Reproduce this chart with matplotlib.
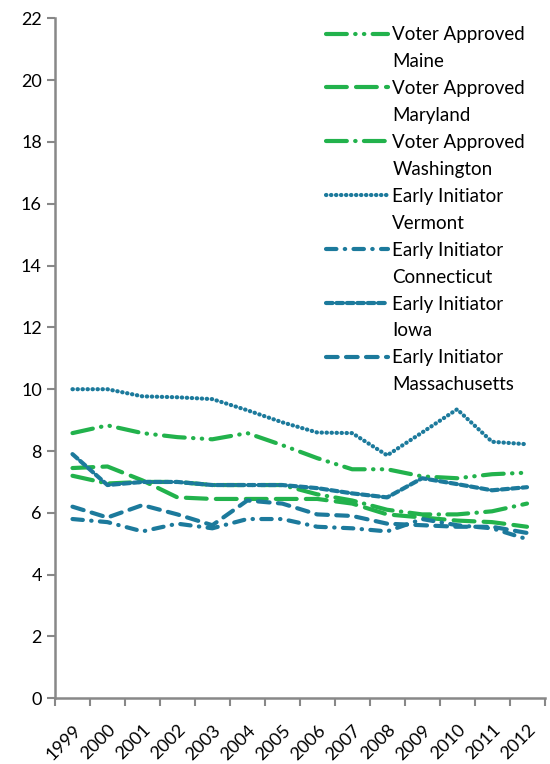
import numpy as np
import matplotlib
matplotlib.use('Agg')
import matplotlib.pyplot as plt
from matplotlib.lines import Line2D

plt.rcParams['font.family'] = ['Lato', 'DejaVu Sans']

years = ['1999', '2000', '2001', '2002', '2003', '2004', '2005', '2006',
         '2007', '2008', '2009', '2010', '2011', '2012']

maine = [8.58, 8.83, 8.58, 8.45, 8.38, 8.58, 8.19, 7.77, 7.41, 7.41, 7.18, 7.12, 7.25, 7.3]
maryland = [7.45, 7.5, 7.05, 6.5, 6.45, 6.45, 6.45, 6.45, 6.3, 5.95, 5.85, 5.75, 5.7, 5.55]
washington = [7.2, 6.95, 7.0, 7.0, 6.9, 6.9, 6.9, 6.6, 6.4, 6.1, 5.95, 5.95, 6.05, 6.3]
vermont = [10.0, 10.0, 9.77, 9.74, 9.68, 9.32, 8.93, 8.6, 8.58, 7.86, 8.6, 9.35, 8.3, 8.22]
connecticut = [5.8, 5.7, 5.4, 5.65, 5.5, 5.8, 5.8, 5.55, 5.5, 5.4, 5.8, 5.6, 5.5, 5.15]
iowa = [7.9, 6.9, 7.0, 7.0, 6.9, 6.9, 6.9, 6.8, 6.63, 6.5, 7.12, 6.93, 6.73, 6.83]
massachusetts = [6.2, 5.85, 6.25, 5.95, 5.6, 6.4, 6.3, 5.95, 5.9, 5.65, 5.6, 5.55, 5.55, 5.35]

green = '#22b24c'
teal = '#1c7a9c'

series = [
    ('Voter Approved', 'Maine', maine, green, (5, 2, 0.1, 2, 0.1, 2)),
    ('Voter Approved', 'Maryland', maryland, green, (5, 2.2)),
    ('Voter Approved', 'Washington', washington, green, (5, 2, 0.1, 2)),
    ('Early Initiator', 'Vermont', vermont, teal, (0.1, 1.1)),
    ('Early Initiator', 'Connecticut', connecticut, teal, (2.5, 2, 0.1, 2)),
    ('Early Initiator', 'Iowa', iowa, teal, (1.6, 0.9)),
    ('Early Initiator', 'Massachusetts', massachusetts, teal, (2.8, 2)),
]

fig = plt.figure(figsize=(5.5, 7.64), dpi=100)
ax = fig.add_axes([0.1, 0.086, 0.89, 0.89])

x = np.arange(len(years))
handles = []
labels = []
for group, state, vals, col, dash in series:
    ln, = ax.plot(x, vals, color=col, lw=3, dashes=dash, dash_capstyle='round')
    handles.append(ln)
    labels.append(group)
    handles.append(Line2D([], [], color='none'))
    labels.append(state)

ax.set_xlim(-0.5, len(years) - 0.5)
ax.set_ylim(0, 22)
ax.set_yticks(np.arange(0, 23, 2))
ax.set_xticks(x)
ax.set_xticklabels(years, rotation=45, ha='right', rotation_mode='anchor')
ax.set_xticks(np.arange(-0.5, len(years)), minor=True)
ax.tick_params(axis='x', which='major', length=0, pad=17, labelsize=13)
ax.tick_params(axis='x', which='minor', length=6, width=1.5, color='#888888')
ax.tick_params(axis='y', length=6, width=1.5, color='#888888', labelsize=13)

for s in ['top', 'right']:
    ax.spines[s].set_visible(False)
for s in ['left', 'bottom']:
    ax.spines[s].set_color('#888888')
    ax.spines[s].set_linewidth(1.8)

leg = ax.legend(handles, labels, loc='upper left', bbox_to_anchor=(0.53, 1.005),
                frameon=False, fontsize=13.5, handlelength=3.3, handletextpad=0.25,
                labelspacing=0.53, borderaxespad=0.2)

fig.savefig('out.png', dpi=100)
